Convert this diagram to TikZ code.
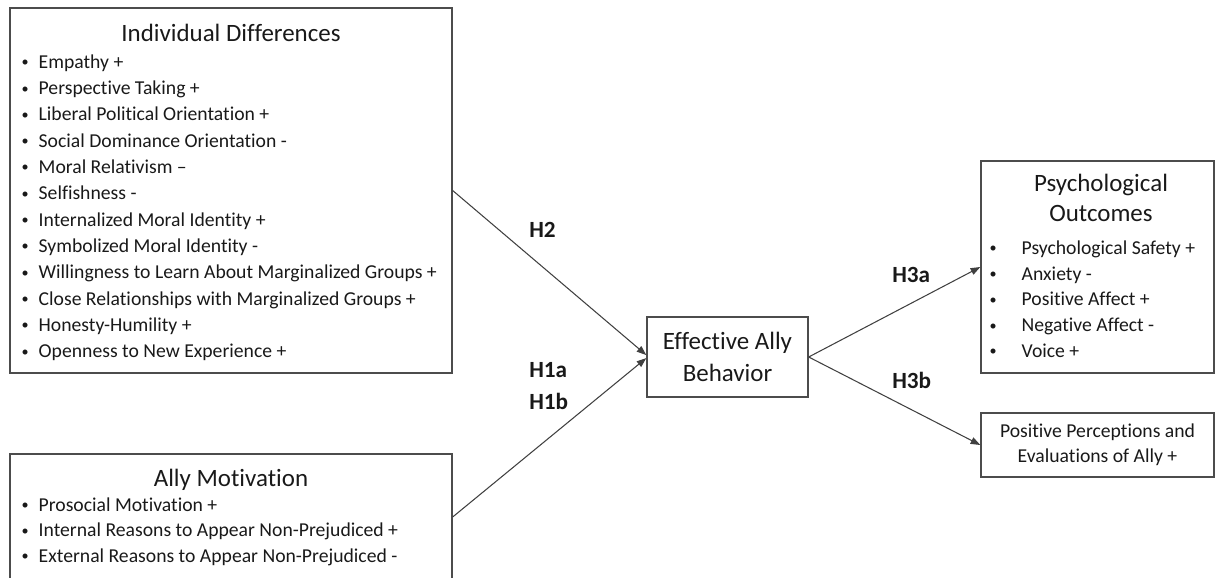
\documentclass[tikz,border=0pt]{standalone}
\usepackage{fontspec}
\usepackage{graphicx}
\setmainfont{Carlito}[Ligatures=NoCommon]
\usetikzlibrary{positioning}
\usetikzlibrary{calc}
\usetikzlibrary{arrows.meta}

\newcommand{\smallbullet}{\raisebox{0.9pt}{\scalebox{0.72}{\textbullet}}}

\begin{document}
\begin{tikzpicture}[x=0.02cm, y=-0.02cm]

% Define styles for different elements
\tikzstyle{box} = [rectangle, draw=black!70, line width=0.8pt, inner sep=0pt, text=black!90]
\tikzstyle{heading} = [inner sep=0pt, anchor=base, text=black!90, font=\fontsize{14.2}{18}\selectfont]
\tikzstyle{listitem} = [inner sep=0pt, anchor=base west, text=black!90, font=\fontsize{11.2}{14.8}\selectfont]
\tikzstyle{hyp} = [inner sep=0pt, anchor=base west, text=black!90, font=\bfseries\fontsize{13.2}{16}\selectfont]
\tikzstyle{arrow} = [draw=black!75, line width=0.6pt, -{Triangle[length=5.5pt,width=4pt]}]

\useasboundingbox (0,0) rectangle (1215,578);
\clip (0,0) rectangle (1215,578);

% Draw the boxes
\node (indiv) [box, minimum width=8.84cm, minimum height=7.3cm] at (231,190.5) {};
\node (motiv) [box, minimum width=8.84cm, minimum height=2.52cm] at (231,517) {};
\node (eff) [box, minimum width=3.22cm, minimum height=1.6cm, align=center, font=\fontsize{14.2}{18.2}\selectfont] at (727.5,357) {Effective Ally\\Behavior};
\node (psych) [box, minimum width=4.66cm, minimum height=4.24cm] at (1097.5,267) {};
\node (perc) [box, minimum width=4.66cm, minimum height=1.28cm, align=center, font=\fontsize{11.2}{14.2}\selectfont] at (1097.5,445) {Positive Perceptions and\\Evaluations of Ally +};

% Individual differences
\node (indivtitle) [heading] at ($(indiv.north)+(0,33.7)$) {Individual Differences};
\foreach \txt [count=\i from 0] in {Empathy +, Perspective Taking +, Liberal Political Orientation +, Social Dominance Orientation -, Moral Relativism –, Selfishness -, Internalized Moral Identity +, Symbolized Moral Identity -, Willingness to Learn About Marginalized Groups +, Close Relationships with Marginalized Groups +, Honesty-Humility +, Openness to New Experience +}
  \node (indiv\i) [listitem] at ($(indiv.north west)+(29,61+26.3*\i)$) {\llap{\smallbullet\hspace{0.2cm}}\txt};

% Ally motivation
\node (motivtitle) [heading] at ($(motiv.north)+(0,33)$) {Ally Motivation};
\foreach \txt [count=\i from 0] in {Prosocial Motivation +, Internal Reasons to Appear Non-Prejudiced +, External Reasons to Appear Non-Prejudiced -}
  \node (motiv\i) [listitem] at ($(motiv.north west)+(29,57.7+25.7*\i)$) {\llap{\smallbullet\hspace{0.2cm}}\txt};

% Psychological outcomes
\node (psychtitle) [heading] at ($(psych.north)+(3.5,31)$) {Psychological};
\node (psychtitleb) [heading] at ($(psych.north)+(3.5,61)$) {Outcomes};
\foreach \txt [count=\i from 0] in {Psychological Safety +, Anxiety -, Positive Affect +, Negative Affect -, Voice +}
  \node (psych\i) [listitem] at ($(psych.north west)+(41,94+25.8*\i)$) {\llap{\smallbullet\hspace{0.5cm}}\txt};

% Draw the arrows
\draw [arrow] (indiv.east) -- ([yshift=1.1pt]eff.west);
\draw [arrow] (motiv.east) -- ([yshift=-0.6pt]eff.west);
\draw [arrow] (eff.east) -- (psych.west);
\draw [arrow] (eff.east) -- (perc.west);

% Add hypothesis labels
\node (htwo) [hyp] at (529,237.5) {H2};
\node (honea) [hyp] at (529,377) {H1a};
\node (honeb) [hyp] at (529,409) {H1b};
\node (hthreea) [hyp] at (892,282) {H3a};
\node (hthreeb) [hyp] at (892,388) {H3b};
\end{tikzpicture}
\end{document}
